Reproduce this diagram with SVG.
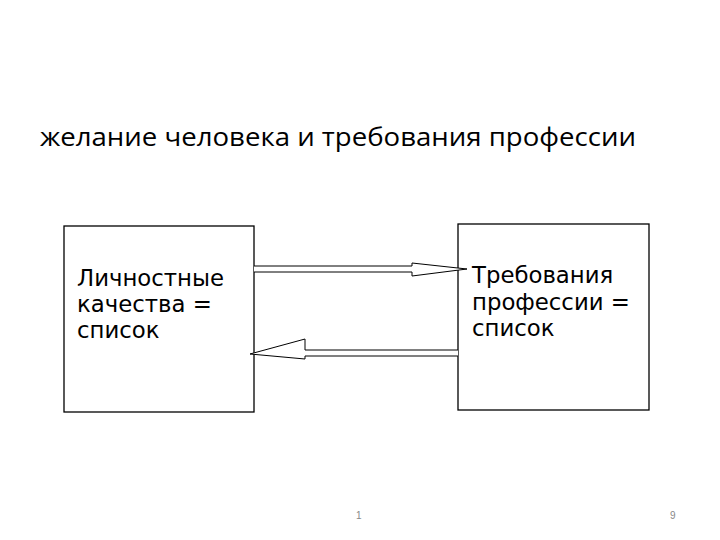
<svg xmlns="http://www.w3.org/2000/svg" width="720" height="540" viewBox="0 0 720 540">
<style>
.box{fill:#fff;stroke:#000;stroke-width:1.3}
.lbl{font-family:"DejaVu Sans",Verdana,sans-serif;font-size:22.8px;fill:#000}
.ttl{font-family:"Open Sans","Liberation Sans",sans-serif;font-size:26px;fill:#000}
.pg{font-family:"Liberation Sans",Arial,sans-serif;font-size:10px;fill:#888}
.ar{fill:#fff;stroke:#000;stroke-width:1}
</style>
<rect width="720" height="540" fill="#fff"/>
<text class="ttl" x="40" y="146" textLength="596" lengthAdjust="spacingAndGlyphs">желание человека и требования профессии</text>
<g id="node-left">
<rect class="box" x="64" y="226" width="190" height="186"/>
<text class="lbl" x="77" y="286">Личностные</text>
<text class="lbl" x="77" y="312">качества =</text>
<text class="lbl" x="77" y="338">список</text>
</g>
<g id="node-right">
<rect class="box" x="458" y="224" width="191" height="186"/>
<text class="lbl" x="472" y="283">Требования</text>
<text class="lbl" x="472" y="310">профессии =</text>
<text class="lbl" x="472" y="336">список</text>
</g>
<g id="connectors">
<path class="ar" d="M254,266 L412,266 L412,263 L467,269 L412,276 L412,272 L254,272"/>
<path class="ar" d="M458,350 L305,350 L305,339 L250,354 L305,359 L305,356 L458,356"/>
</g>
<text class="pg" x="356" y="519">1</text>
<text class="pg" x="670" y="519">9</text>
</svg>
